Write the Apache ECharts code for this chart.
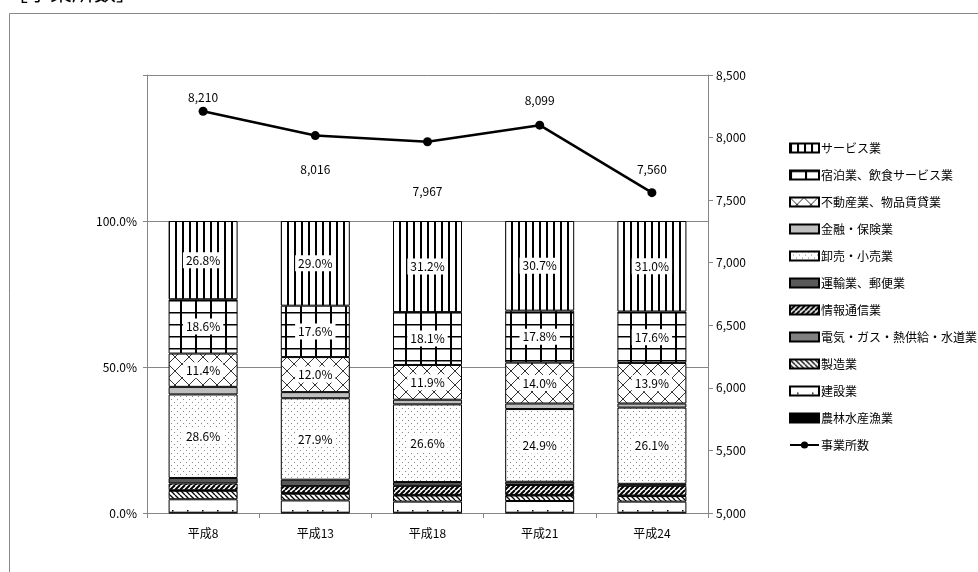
<!DOCTYPE html>
<html>
<head>
<meta charset="utf-8">
<script src="https://cdn.jsdelivr.net/npm/echarts@6/dist/echarts.min.js"></script>
<style>
  html, body { margin: 0; padding: 0; background: #fff; }
  #main { width: 978px; height: 572px; }
</style>
</head>
<body>
<div id="main"></div>
<script>
// 年次
var years = ['平成8', '平成13', '平成18', '平成21', '平成24'];

// 産業別構成比（%）
var nourin   = [0.1, 0.1, 0.1, 0.1, 0.1];
var kensetsu = [4.6, 4.2, 3.8, 4.0, 3.8];
var seizou   = [2.9, 2.3, 2.1, 1.9, 1.9];
var denki    = [0.2, 0.2, 0.2, 0.2, 0.2];
var jouhou   = [2.3, 2.4, 3.1, 3.4, 3.3];
var unyu     = [1.9, 2.2, 1.3, 1.1, 0.7];
var oroshi   = [28.6, 27.9, 26.6, 24.9, 26.1];
var kinyu    = [2.6, 2.1, 1.6, 1.9, 1.4];
var fudousan = [11.4, 12.0, 11.9, 14.0, 13.9];
var shukuhaku = [18.6, 17.6, 18.1, 17.8, 17.6];
var service  = [26.8, 29.0, 31.2, 30.7, 31.0];

// 事業所数
var jigyousho = [8210, 8016, 7967, 8099, 7560];

var pctTicks = [0, 50, 100];

// 凡例の並び（上から）
var legendBars = ['サービス業', '宿泊業、飲食サービス業', '不動産業、物品賃貸業', '金融・保険業',
    '卸売・小売業', '運輸業、郵便業', '情報通信業', '電気・ガス・熱供給・水道業',
    '製造業', '建設業', '農林水産漁業'];

// 模様
function pattern(w, h, draw) {
    var c = document.createElement('canvas');
    c.width = w;
    c.height = h;
    var ctx = c.getContext('2d');
    ctx.fillStyle = '#fff';
    ctx.fillRect(0, 0, w, h);
    draw(ctx, w, h);
    return { image: c, repeat: 'repeat' };
}

function diag(ctx, w, h, up, lw, col) {
    ctx.strokeStyle = col;
    ctx.lineWidth = lw;
    ctx.beginPath();
    for (var k = -1; k <= 1; k++) {
        if (up) {
            ctx.moveTo(k * w, h);
            ctx.lineTo(k * w + w, 0);
        } else {
            ctx.moveTo(k * w, 0);
            ctx.lineTo(k * w + w, h);
        }
    }
    ctx.stroke();
}

var pServ = pattern(7, 7, function (ctx) { ctx.fillStyle = '#000'; ctx.fillRect(0, 0, 2, 7); });
var pShuku = pattern(15, 12, function (ctx) {
    ctx.fillStyle = '#000';
    ctx.fillRect(0, 0, 15, 1.5);
    ctx.fillRect(0, 0, 2, 12);
});
var pFudou = pattern(14, 14, function (ctx, w, h) {
    diag(ctx, w, h, true, 1, '#333');
    diag(ctx, w, h, false, 1, '#333');
});
var pOroshi = pattern(6, 6, function (ctx) {
    ctx.fillStyle = '#888';
    ctx.fillRect(0, 0, 1, 1);
    ctx.fillRect(3, 3, 1, 1);
});
var pJouhou = pattern(5, 5, function (ctx, w, h) { diag(ctx, w, h, true, 2, '#000'); });
var pSeizou = pattern(5, 5, function (ctx, w, h) { diag(ctx, w, h, false, 1.3, '#000'); });
var pKensetsu = pattern(15, 12, function (ctx) { ctx.fillStyle = '#000'; ctx.fillRect(7, 6, 1.5, 1.5); });

var font = '"Noto Sans CJK JP", "Noto Sans", sans-serif';

function barSeries(name, data, color, withLabel) {
    var s = {
        name: name,
        type: 'bar',
        stack: 'all',
        barWidth: 69,
        data: data,
        itemStyle: { color: color, borderColor: '#000', borderWidth: 1 },
        emphasis: { disabled: true }
    };
    if (withLabel) {
        s.label = {
            show: true,
            position: 'inside',
            formatter: function (p) { return p.value.toFixed(1) + '%'; },
            color: '#000',
            fontSize: 12,
            fontFamily: font,
            backgroundColor: '#fff',
            padding: [2, 3]
        };
    }
    return s;
}

var labelOffsets = [[0, -14], [0, 34], [0, 50], [0, -25], [0, -23]];

var legendData = legendBars.map(function (n) { return { name: n, icon: 'rect' }; });
legendData.push({ name: '事業所数' });

var myChart = echarts.init(document.getElementById('main'));

var option = {
    animation: false,
    textStyle: { fontFamily: font },
    graphic: [
        {
            type: 'rect',
            shape: { x: 9.5, y: 13.5, width: 1000, height: 600 },
            style: { fill: 'none', stroke: '#888', lineWidth: 1 },
            silent: true
        },
        {
            type: 'text',
            left: 6,
            top: -19,
            style: { text: '［事業所数］', fontSize: 22, fontFamily: font, fill: '#000' }
        }
    ],
    grid: { left: 147, right: 270, top: 75, bottom: 59 },
    legend: {
        orient: 'vertical',
        left: 784,
        top: 137,
        itemWidth: 29,
        itemHeight: 9,
        itemGap: 15,
        textStyle: { fontSize: 12, fontFamily: font, color: '#000', padding: [0, 0, 0, -3] },
        data: legendData
    },
    xAxis: {
        type: 'category',
        data: years,
        axisLine: { lineStyle: { color: '#868686' } },
        axisTick: { show: true, length: 5, lineStyle: { color: '#868686' } },
        axisLabel: { color: '#000', fontSize: 12, margin: 14 }
    },
    yAxis: [
        {
            type: 'value',
            min: 0,
            max: 150,
            interval: 50,
            axisLine: { show: true, lineStyle: { color: '#868686' } },
            axisTick: { show: true, length: 4, lineStyle: { color: '#868686' } },
            splitLine: { lineStyle: { color: '#868686' } },
            axisLabel: {
                color: '#000',
                fontSize: 12,
                margin: 10,
                formatter: function (v) { return pctTicks.indexOf(v) >= 0 ? v.toFixed(1) + '%' : ''; }
            }
        },
        {
            type: 'value',
            min: 5000,
            max: 8500,
            interval: 500,
            position: 'right',
            axisLine: { show: true, lineStyle: { color: '#868686' } },
            axisTick: { show: true, length: 5, lineStyle: { color: '#868686' } },
            splitLine: { show: false },
            axisLabel: {
                color: '#000',
                fontSize: 12,
                margin: 8,
                formatter: function (v) { return v.toLocaleString('en-US'); }
            }
        }
    ],
    series: [
        barSeries('農林水産漁業', nourin, '#000'),
        barSeries('建設業', kensetsu, pKensetsu),
        barSeries('製造業', seizou, pSeizou),
        barSeries('電気・ガス・熱供給・水道業', denki, '#808080'),
        barSeries('情報通信業', jouhou, pJouhou),
        barSeries('運輸業、郵便業', unyu, '#595959'),
        barSeries('卸売・小売業', oroshi, pOroshi, true),
        barSeries('金融・保険業', kinyu, '#bfbfbf'),
        barSeries('不動産業、物品賃貸業', fudousan, pFudou, true),
        barSeries('宿泊業、飲食サービス業', shukuhaku, pShuku, true),
        barSeries('サービス業', service, pServ, true),
        {
            name: '事業所数',
            type: 'line',
            yAxisIndex: 1,
            z: 10,
            data: jigyousho.map(function (v, i) {
                return { value: v, label: { offset: labelOffsets[i] } };
            }),
            symbol: 'circle',
            symbolSize: 9,
            lineStyle: { color: '#000', width: 2.5 },
            itemStyle: { color: '#000' },
            emphasis: { disabled: true },
            label: {
                show: true,
                position: 'inside',
                color: '#000',
                fontSize: 12,
                fontFamily: font,
                formatter: function (p) { return p.value.toLocaleString('en-US'); }
            }
        }
    ]
};

myChart.setOption(option);
</script>
</body>
</html>
